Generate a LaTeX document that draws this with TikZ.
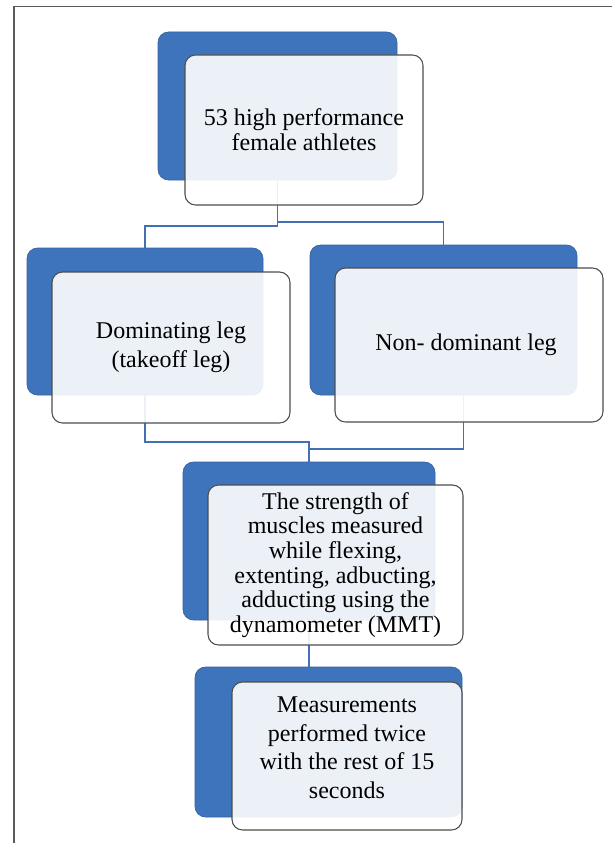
\documentclass[tikz,border=0pt]{standalone}
\usepackage{fontspec}
\setmainfont{Liberation Serif}
\usetikzlibrary{positioning,calc}
\definecolor{SmartBlue}{HTML}{3E74BB}
\definecolor{LinkBlue}{HTML}{4171B4}
\definecolor{FrameGray}{HTML}{5A5A5A}
\definecolor{EdgeGray}{HTML}{4D4D4D}

\begin{document}
\begin{tikzpicture}[
    backbox/.style={draw=SmartBlue!85!black, rounded corners=9pt, fill=SmartBlue, line width=0.6pt, inner sep=0pt},
    frontbox/.style={draw=EdgeGray, rounded corners=9pt, fill=white, fill opacity=0.9, text opacity=1, line width=0.9pt, inner sep=0pt, align=center, font=\fontsize{20.5}{21.5}\selectfont},
    link/.style={draw=LinkBlue, line width=1.6pt}
]

  % Fundo e moldura
  \useasboundingbox (0, 0) rectangle (18.33, -25.29);
  \fill[white] (0, 0) rectangle (18.33, -25.29);
  \draw[FrameGray, line width=1pt] (18.4, -0.2) -- (0.42, -0.2) -- (0.42, -25.4);

  % =========================================================================
  % CAIXAS AZUIS (FUNDO)
  % =========================================================================
  \node[backbox, minimum width=7.17cm, minimum height=4.44cm] (bk_top) at (8.325, -3.18) {};
  \node[backbox, minimum width=7.08cm, minimum height=4.41cm] (bk_dom) at (4.35, -9.645) {};
  \node[backbox, minimum width=8.01cm, minimum height=4.5cm] (bk_non) at (13.305, -9.6) {};
  \node[backbox, minimum width=7.56cm, minimum height=4.74cm] (bk_msr) at (9.27, -16.23) {};
  \node[backbox, minimum width=8.01cm, minimum height=4.5cm] (bk_rep) at (9.855, -22.26) {};

  % =========================================================================
  % LIGACOES
  % =========================================================================
  \draw[link] (bk_top.south) -- ++(0, -1.38) -| (bk_dom.north);
  \draw[link] (bk_top.south) -- ++(0, -1.26) -| (bk_non.north);
  \draw[link] (bk_dom.south) -- ++(0, -1.41) -| (bk_msr.north);
  \draw[link] ([xshift=6mm]bk_non.south) -- ++(0, -1.62) -| (bk_msr.north);
  \draw[link] (bk_msr.south) -- (bk_rep.north -| bk_msr.south);

  % =========================================================================
  % CAIXAS BRANCAS (FRENTE)
  % =========================================================================
  \node[frontbox, minimum width=7.14cm, minimum height=4.5cm] (f_top) at (9.12, -3.9) {
    53 high performance\\female athletes
  };
  \node[frontbox, minimum width=7.14cm, minimum height=4.53cm, font=\fontsize{20.5}{24.5}\selectfont] (f_dom) at (5.13, -10.425) {
    Dominating leg\\(takeoff leg)
  };
  \node[frontbox, minimum width=8.04cm, minimum height=4.62cm] (f_non) at (14.07, -10.35) {
    Non- dominant leg
  };
  \node[frontbox, minimum width=7.65cm, minimum height=4.8cm, font=\fontsize{20.5}{21}\selectfont] (f_msr) at (10.065, -16.95) {
    The strength of\\muscles measured\\while flexing,\\extenting, adbucting,\\adducting using the\\dynamometer (MMT)
  };
  \node[frontbox, minimum width=6.9cm, minimum height=4.44cm, font=\fontsize{20.5}{24.5}\selectfont] (f_rep) at (10.41, -22.68) {
    Measurements\\performed twice\\with the rest of 15\\seconds\\[-0.35cm]
  };

\end{tikzpicture}
\end{document}
